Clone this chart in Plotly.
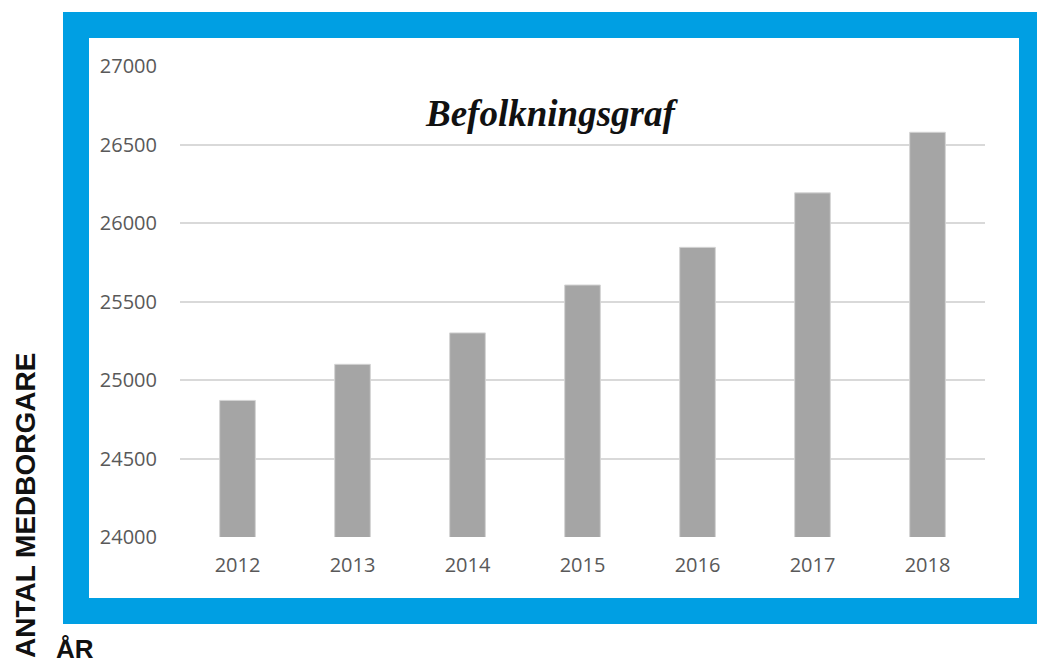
import plotly.graph_objects as go

years = ["2012", "2013", "2014", "2015", "2016", "2017", "2018"]
population = [24870, 25100, 25300, 25605, 25845, 26192, 26578]
y_ticks = [24000, 24500, 25000, 25500, 26000, 26500, 27000]

W, H = 1037, 666
L, R, T, B = 180, 1037 - 985, 66, 666 - 537
pw, ph = W - L - R, H - T - B


def px_x(x):
    return (x - L) / pw


def px_y(y):
    return (H - B - y) / ph


fig = go.Figure()
fig.add_trace(go.Bar(
    x=years, y=population, width=0.31,
    marker=dict(color="#a5a5a5", line=dict(color="#d4d4d4", width=1)),
    showlegend=False,
))

shapes = [
    dict(type="rect", xref="paper", yref="paper", layer="below",
         x0=px_x(63), x1=px_x(1060), y0=px_y(624), y1=px_y(12),
         fillcolor="#009fe3", line=dict(width=0)),
    dict(type="rect", xref="paper", yref="paper", layer="below",
         x0=px_x(89), x1=px_x(1019), y0=px_y(598), y1=px_y(38),
         fillcolor="#ffffff", line=dict(width=0)),
]

annotations = [
    dict(text="Befolkningsgraf", xref="paper", yref="paper",
         x=px_x(551), y=px_y(113), xanchor="center", yanchor="middle",
         showarrow=False,
         font=dict(family="Liberation Serif", size=37, color="#111111", style="italic", weight="bold")),
    dict(text="ANTAL MEDBORGARE", xref="paper", yref="paper",
         x=px_x(25), y=px_y(506), xanchor="center", yanchor="middle",
         textangle=-90, showarrow=False,
         font=dict(family="Liberation Sans", size=28, color="#111111", weight="bold")),
    dict(text="ÅR", xref="paper", yref="paper",
         x=px_x(54), y=px_y(632), xanchor="left", yanchor="top",
         showarrow=False,
         font=dict(family="Liberation Sans", size=26, color="#111111", weight="bold")),
]

fig.update_layout(
    width=W, height=H,
    margin=dict(l=L, r=R, t=T, b=B),
    paper_bgcolor="#ffffff",
    plot_bgcolor="rgba(0,0,0,0)",
    shapes=shapes,
    annotations=annotations,
    xaxis=dict(
        type="category", categoryorder="array", categoryarray=years,
        tickfont=dict(family="Open Sans", size=20, color="#595959"),
        showgrid=False, showline=False, ticks="", ticklabelstandoff=14,
    ),
    yaxis=dict(
        range=[24000, 27000], tickvals=y_ticks,
        tickfont=dict(family="Open Sans", size=20, color="#595959"),
        showgrid=True, gridcolor="#d9d9d9", gridwidth=1.5,
        zeroline=False, showline=False, ticks="", ticklabelstandoff=22,
        tickformat="d",
    ),
)

fig.write_html(
    "out.html",
    config={"displayModeBar": False},
    post_script=(
        "document.body.style.margin='0';"
        "document.documentElement.style.overflow='hidden';"
        "document.body.style.overflow='hidden';"
    ),
)
